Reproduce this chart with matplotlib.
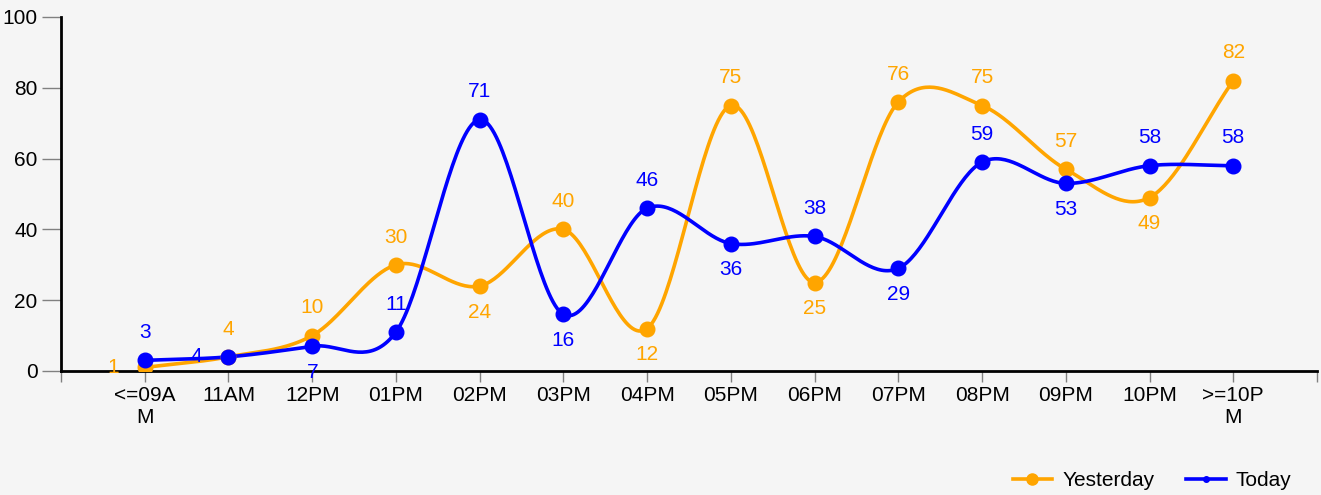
import numpy as np
import matplotlib.pyplot as plt

plt.rcParams['font.family'] = ['Liberation Sans', 'DejaVu Sans']

categories = ['<=09A\nM', '11AM', '12PM', '01PM', '02PM', '03PM', '04PM',
              '05PM', '06PM', '07PM', '08PM', '09PM', '10PM', '>=10P\nM']
yesterday = [1, 4, 10, 30, 24, 40, 12, 75, 25, 76, 75, 57, 49, 82]
today = [3, 4, 7, 11, 71, 16, 46, 36, 38, 29, 59, 53, 58, 58]

# where each value label goes: a=above, b=below, l=left
yesterday_pos = ['l', 'a', 'a', 'a', 'b', 'a', 'b', 'a', 'b', 'a', 'a', 'a', 'b', 'a']
today_pos = ['a', 'l', 'b', 'a', 'a', 'b', 'a', 'b', 'a', 'b', 'a', 'b', 'a', 'a']

ORANGE = '#FFA500'
BLUE = '#0000FF'
BG = '#F5F5F5'
FS = 15


# Catmull-Rom curve through the points, for drawing only
def smooth(values, steps=40):
    p = np.array(values, dtype=float)
    n = len(p)
    m = np.zeros(n)
    m[1:-1] = (p[2:] - p[:-2]) / 2
    m[0] = p[1] - p[0]
    m[-1] = p[-1] - p[-2]
    xs, ys = [], []
    for i in range(n - 1):
        t = np.linspace(0, 1, steps, endpoint=(i == n - 2))
        h00 = 2 * t**3 - 3 * t**2 + 1
        h10 = t**3 - 2 * t**2 + t
        h01 = -2 * t**3 + 3 * t**2
        h11 = t**3 - t**2
        xs.append(i + t)
        ys.append(h00 * p[i] + h10 * m[i] + h01 * p[i + 1] + h11 * m[i + 1])
    return np.concatenate(xs), np.concatenate(ys)


def draw_series(ax, values, pos, color, label, msize_legend):
    x = np.arange(len(values))
    sx, sy = smooth(values)
    ax.plot(sx, sy, color=color, lw=2.6, zorder=3)
    ax.plot(x, values, 'o', color=color, ms=10.5, zorder=4)
    ax.plot([], [], color=color, lw=2.6, marker='o', ms=msize_legend, label=label)
    for xi, v, p in zip(x, values, pos):
        if p == 'a':
            off = (0, 20)
        elif p == 'b':
            off = (0, -19)
        else:
            off = (-23, 0)
        ax.annotate(str(v), (xi, v), xytext=off, textcoords='offset points',
                    ha='center', va='center', color=color, fontsize=FS, zorder=5)


fig = plt.figure(figsize=(13.21, 4.95), dpi=100, facecolor=BG)
ax = fig.add_axes([61 / 1321, 1 - 371 / 495, (1317 - 61) / 1321, (371 - 17) / 495])
ax.set_facecolor(BG)

draw_series(ax, yesterday, yesterday_pos, ORANGE, 'Yesterday', 8)
draw_series(ax, today, today_pos, BLUE, 'Today', 4)

ax.set_xlim(-1, len(categories))
ax.set_ylim(0, 100)
ax.set_yticks(range(0, 101, 20))
ax.set_xticks(range(-1, len(categories) + 1))
ax.set_xticklabels([''] + categories + [''])
ax.tick_params(axis='both', colors='#808080', labelcolor='black', labelsize=FS,
               length=8, width=1)
ax.tick_params(axis='x', pad=3)
ax.tick_params(axis='y', length=14, pad=3)
for s in ['top', 'right']:
    ax.spines[s].set_visible(False)
for s in ['left', 'bottom']:
    ax.spines[s].set_linewidth(2)
    ax.spines[s].set_color('black')
ax.spines['left'].set_zorder(6)

fig.legend(loc='center right', bbox_to_anchor=(1300 / 1321, 1 - 481 / 495),
           ncol=2, frameon=False, fontsize=FS, handlelength=1.9,
           handletextpad=0.5, columnspacing=1.5, borderaxespad=0)

fig.savefig('out.png', dpi=100, facecolor=BG)
